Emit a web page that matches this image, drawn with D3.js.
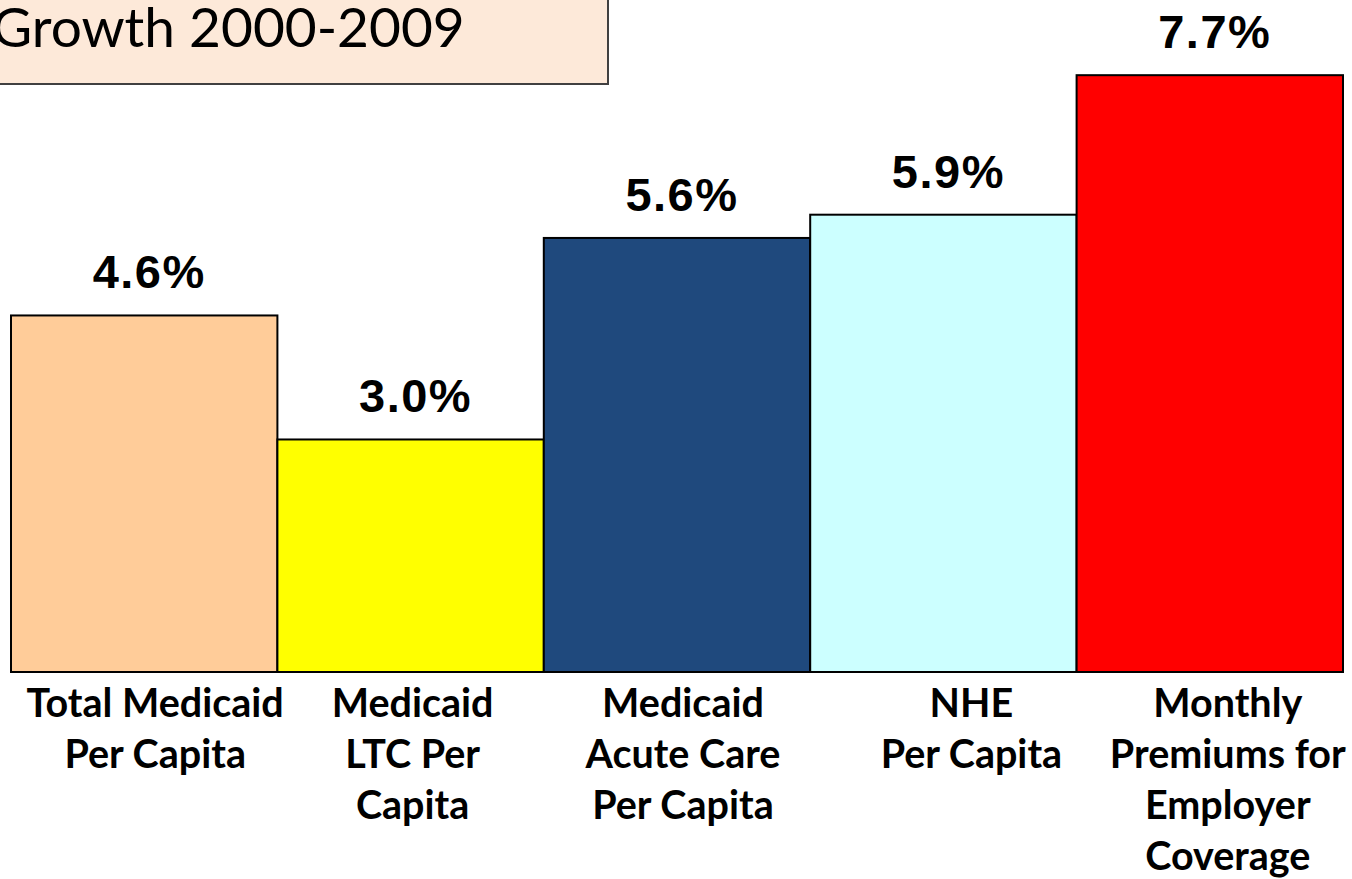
<!DOCTYPE html>
<html>
<head>
<meta charset="utf-8">
<script src="https://cdn.jsdelivr.net/npm/d3@7"></script>
<style>
  body { margin: 0; background: #fff; overflow: hidden; }
  svg { display: block; }
</style>
</head>
<body>
<svg id="chart"></svg>
<script>
// data
var categories = ['Total Medicaid Per Capita', 'Medicaid LTC Per Capita', 'Medicaid Acute Care Per Capita', 'NHE Per Capita', 'Monthly Premiums for Employer Coverage'];
var labelLines = [
	['Total Medicaid', 'Per Capita'],
	['Medicaid', 'LTC Per', 'Capita'],
	['Medicaid', 'Acute Care', 'Per Capita'],
	['NHE', 'Per Capita'],
	['Monthly', 'Premiums for', 'Employer', 'Coverage']
];
var growth = [4.6, 3.0, 5.6, 5.9, 7.7];
var barColors = ['#ffcc99', '#ffff00', '#1f497d', '#ccffff', '#ff0000'];
var titleText = 'Growth 2000-2009';

var width = 1352, height = 879;
var baseline = 672;

var svg = d3.select('#chart')
	.attr('width', width)
	.attr('height', height);

var x = d3.scaleBand()
	.domain(categories)
	.range([11, 1343])
	.padding(0);

var y = d3.scaleLinear()
	.domain([0, 8.67])
	.range([baseline, 0]);

// title box (runs off the top/left edge like the slide)
svg.append('rect')
	.attr('x', -20)
	.attr('y', -20)
	.attr('width', 628)
	.attr('height', 104)
	.attr('fill', '#fde9d9')
	.attr('stroke', '#404040')
	.attr('stroke-width', 2);

svg.append('text')
	.attr('x', -8)
	.attr('y', 47)
	.attr('font-family', 'Lato, "Open Sans", sans-serif')
	.attr('font-size', 55)
	.attr('fill', '#000')
	.text(titleText);

var bars = svg.selectAll('.bar').data(categories)
	.enter()
	.append('rect')
	.attr('class', 'bar')
	.attr('x', function(d) { return x(d); })
	.attr('y', function(d, i) { return y(growth[i]); })
	.attr('width', x.bandwidth())
	.attr('height', function(d, i) { return baseline - y(growth[i]); })
	.attr('fill', function(d, i) { return barColors[i]; })
	.attr('stroke', '#000')
	.attr('stroke-width', 2);

// value labels
svg.selectAll('.val').data(categories)
	.enter()
	.append('text')
	.attr('class', 'val')
	.attr('x', function(d) { return x(d) + x.bandwidth() / 2 + 5; })
	.attr('y', function(d, i) { return y(growth[i]) - 27; })
	.attr('text-anchor', 'middle')
	.attr('font-family', '"Liberation Sans", Arial, sans-serif')
	.attr('font-weight', 'bold')
	.attr('font-size', 47)
	.attr('letter-spacing', 1.5)
	.text(function(d, i) { return growth[i].toFixed(1) + '%'; });

// category labels, nudged like the original text boxes
var nudge = [11, 2, 6, 28, 18];
var cats = svg.selectAll('.cat').data(categories)
	.enter()
	.append('text')
	.attr('class', 'cat')
	.attr('text-anchor', 'middle')
	.attr('font-family', 'Lato, "Open Sans", sans-serif')
	.attr('font-weight', 'bold')
	.attr('font-size', 39.5)
	.attr('fill', '#000');

cats.each(function(d, i) {
	var cx = x(d) + x.bandwidth() / 2 + nudge[i];
	d3.select(this).selectAll('tspan').data(labelLines[i])
		.enter()
		.append('tspan')
		.attr('x', cx)
		.attr('y', function(t, j) { return 717 + j * 51; })
		.text(function(t) { return t; });
});
</script>
</body>
</html>
